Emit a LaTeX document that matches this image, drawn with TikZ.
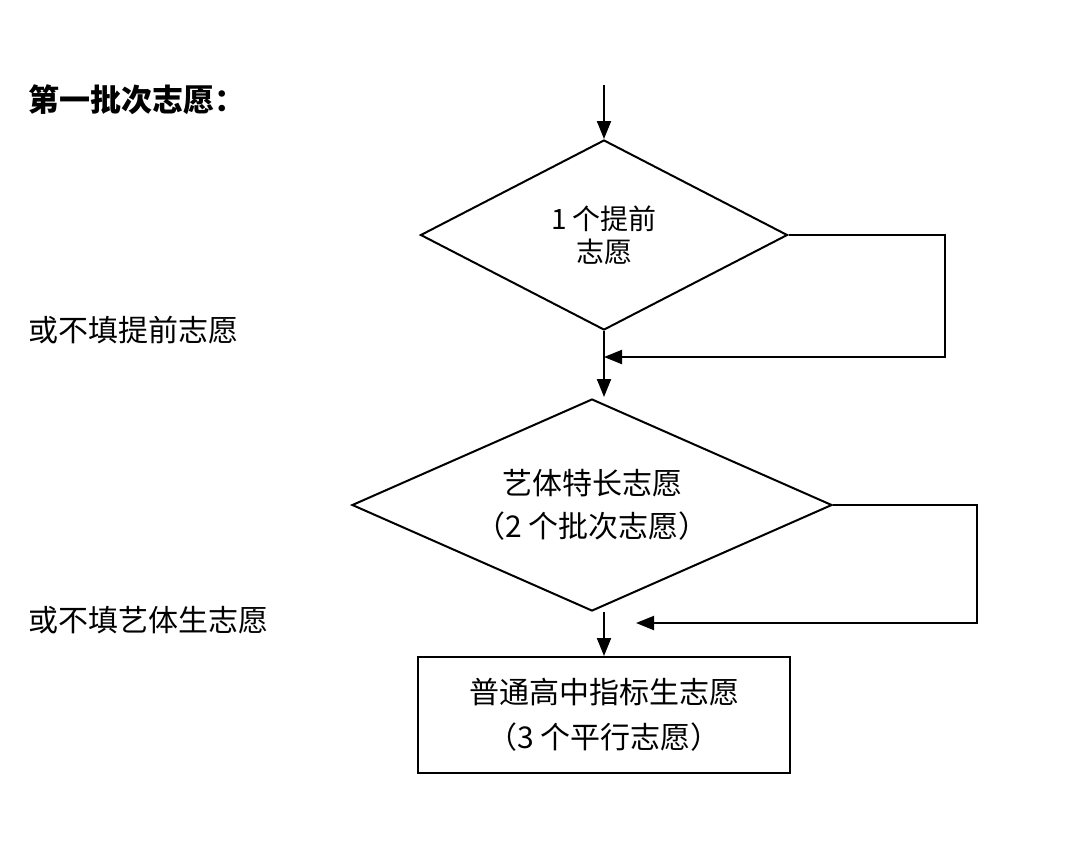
\documentclass[tikz,border=0pt]{standalone}
\usepackage{fontspec}
\newfontfamily\cjk{Noto Sans CJK SC}
\usetikzlibrary{shapes.geometric,arrows.meta}
\begin{document}
\begin{tikzpicture}[x=0.5pt,y=-0.5pt,line width=1pt,
    every node/.style={inner sep=0pt,font=\cjk},
    choice/.style={draw,shape=diamond,aspect=2.3,align=center},
    flow/.style={-{Triangle[length=9pt,width=7pt]}}]
    \useasboundingbox (0,0) rectangle (1080,843);
    % labels on the left
    \node (title) [anchor=west,font=\cjk\bfseries\fontsize{15.5}{18}\selectfont] at (27,100) {第一批次志愿：};
    \node (skipA) [anchor=west,font=\cjk\fontsize{15}{18}\selectfont] at (27,330) {或不填提前志愿};
    \node (skipB) [anchor=west,font=\cjk\fontsize{15}{18}\selectfont] at (27,620) {或不填艺体生志愿};
    % the three steps
    \node (early) [choice,minimum width=183.5pt,minimum height=95pt,font=\cjk\fontsize{14}{16.5}\selectfont] at (604,235) {1 个提前\\志愿};
    \node (arts) [choice,minimum width=240pt,minimum height=106pt,font=\cjk\fontsize{15}{21.5}\selectfont] at (592,505) {艺体特长志愿\\（2 个批次志愿）};
    \node (quota) [draw,minimum width=186pt,minimum height=58pt,align=center,font=\cjk\fontsize{15}{22.5}\selectfont] at (604,715) {普通高中指标生志愿\\（3 个平行志愿）};
    \coordinate (start) at (604,85);
    \coordinate (joinA) at (604,357);
    \coordinate (joinB) at (636,623);
    % arrows
    \draw [flow] (start) -- (early.north);
    \draw [flow] (early.south) -- (604,397);
    \draw [flow] (early.east) -- ++(156,0) |- (joinA);
    \draw [flow] (604,612) -- (quota.north);
    \draw [flow] (arts.east) -- ++(144,0) |- (joinB);
\end{tikzpicture}
\end{document}
